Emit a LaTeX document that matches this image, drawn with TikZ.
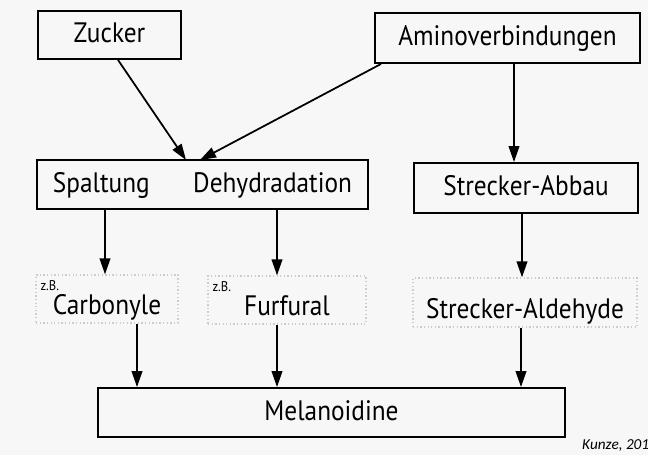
\documentclass[tikz,border=0pt]{standalone}
\usepackage{fontspec}
\setmainfont{PT Sans}[FakeStretch=0.9]
\newfontfamily\citefont{Carlito}
\usepackage{tikz}
\usetikzlibrary{positioning,calc,arrows.meta}

\tikzset{
    box/.style={draw, line width=1.6pt, inner sep=0pt, text height=17pt, text depth=4pt,
        font=\fontsize{24}{28}\selectfont},
    ghost/.style={draw=gray!40, dotted, line width=1.1pt, inner sep=0pt, text height=0.93cm, text depth=0pt,
        font=\fontsize{24}{28}\selectfont},
    flow/.style={line width=1.5pt, -{Triangle[length=4.8mm,width=3.2mm]}},
    zb/.style={font=\fontsize{12}{14}\selectfont, anchor=north west, inner sep=0pt}
}

\begin{document}
\begin{tikzpicture}[x=0.03cm, y=-0.03cm]
    % background
    \fill[gray!6] (0,0) rectangle (648,455);
    \useasboundingbox (0,0) rectangle (648,455);

    % top row
    \node[box, minimum width=4.29cm, minimum height=1.44cm] (zucker) at (109.5,35) {Zucker};
    \node[box, minimum width=7.95cm, minimum height=1.5cm] (amino) at (507.5,38) {Aminoverbindungen};

    % middle row
    \node[box, minimum height=1.47cm, text width=8.97cm, inner xsep=0.48cm] (spalt) at (202.5,184.5)
        {Spaltung\hfill Dehydradation};
    \node[box, minimum width=6.72cm, minimum height=1.5cm] (abbau) at (526,188) {Strecker-Abbau};

    % products (dotted)
    \node[ghost, minimum width=4.26cm, minimum height=1.44cm] (carb) at (107,299) {Carbonyle};
    \node[ghost, minimum width=4.74cm, minimum height=1.44cm] (furf) at (287,300) {Furfural};
    \node[ghost, minimum width=6.72cm, minimum height=1.47cm] (aldeh) at (525,302.5) {Strecker-Aldehyde};
    \node[zb] (zbcarb) at ($(carb.north west)+(5,6)$) {z.B.};
    \node[zb] (zbfurf) at ($(furf.north west)+(5,6)$) {z.B.};

    % end product
    \node[box, minimum width=14.01cm, minimum height=1.47cm] (mel) at (331.5,412.5) {Melanoidine};

    \node[font=\citefont\itshape\fontsize{13}{15}\selectfont, anchor=base west, inner sep=0pt] (cite) at (582,449) {Kunze, 201};

    % arrows
    \coordinate (inA) at (186,160);
    \coordinate (inB) at (200,160);
    \draw[flow] (zucker.south -| 118,0) -- (inA);
    \draw[flow] (amino.south west) ++(7,0) -- (inB);
    \draw[flow] (amino.south -| 514,0) -- (abbau.north -| 514,0);

    \draw[flow] (spalt.south -| 105,0) -- (carb.north -| 105,0);
    \draw[flow] (spalt.south -| 277,0) -- (furf.north -| 277,0);
    \draw[flow] (abbau.south -| 522,0) -- (aldeh.north -| 522,0);

    \draw[flow] (carb.south -| 137,0) -- (mel.north -| 137,0);
    \draw[flow] (furf.south -| 277,0) -- (mel.north -| 277,0);
    \draw[flow] (aldeh.south -| 521,0) -- (mel.north -| 521,0);
\end{tikzpicture}
\end{document}
